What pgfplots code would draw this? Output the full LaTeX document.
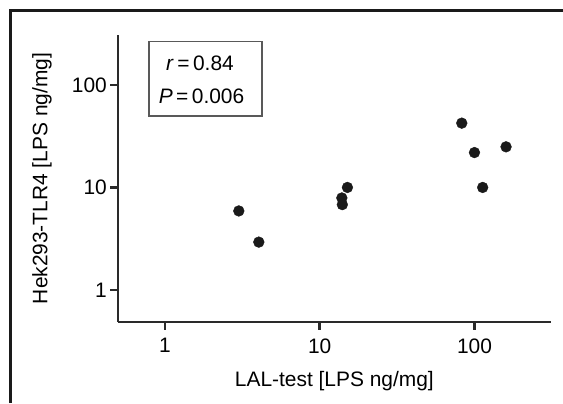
\documentclass[border=0pt]{standalone}
\usepackage{pgfplots}
\pgfplotsset{compat=1.18}
\usepackage{fontspec}
\setmainfont{Liberation Sans}
\definecolor{dotc}{HTML}{1A1A1A}
\definecolor{axc}{HTML}{2A2A2A}
\begin{document}
\begin{tikzpicture}[x=1bp,y=1bp,font=\fontsize{21}{25}\selectfont]
\useasboundingbox (0,0) rectangle (563,403);
\fill[white] (0,0) rectangle (563,403);
% outer frame (top and left)
\draw[line width=3bp, color=dotc, line cap=butt] (10,0) -- (10,392.3) -- (563,392.3);
\begin{axis}[
  scale only axis,
  width=432.7bp, height=287bp,
  at={(118bp,81bp)}, anchor=south west,
  xmode=log, ymode=log,
  xmin=0.497, xmax=311, ymin=0.487, ymax=307,
  axis x line=bottom, axis y line=left,
  axis line style={-, line width=2.8bp, color=axc},
  tick style={line width=2.8bp, color=axc},
  tick align=outside,
  major tick length=8bp,
  minor tick num=0,
  xminorticks=false, yminorticks=false,
  xtick={1,10,100}, xticklabels={1,10,100},
  ytick={1,10,100}, yticklabels={1,10,100},
  /pgf/number format/assume math mode=true,
  xticklabel style={inner sep=0pt, yshift=-8.4bp, anchor=north},
  yticklabel style={inner sep=0pt, xshift=-3bp, anchor=east},
  xlabel={LAL-test [LPS ng/mg]},
  ylabel={Hek293-TLR4 [LPS ng/mg]},
  every axis x label/.style={at={(rel axis cs:0.5,0)}, anchor=center, yshift=-59bp},
  every axis y label/.style={at={(rel axis cs:0,0.5)}, xshift=-76bp, rotate=90, anchor=center},
  clip=false,
]
\addplot[only marks, mark=*, mark size=5.4bp, color=dotc] coordinates {
  (3.0,5.9) (4.04,2.93)
  (13.9,7.9) (14.0,6.8) (15.1,10.0)
  (82.8,42.4) (100,21.9) (113,10.0) (160,24.9)
};
\end{axis}
% statistics box
\draw[line width=1.2bp, color=black!65] (149,287) rectangle (262,361.3);
\node at (200,340) {\textit{r}\,=\,0.84};
\node at (201.5,306.3) {\textit{P}\,=\,0.006};
\end{tikzpicture}
\end{document}
